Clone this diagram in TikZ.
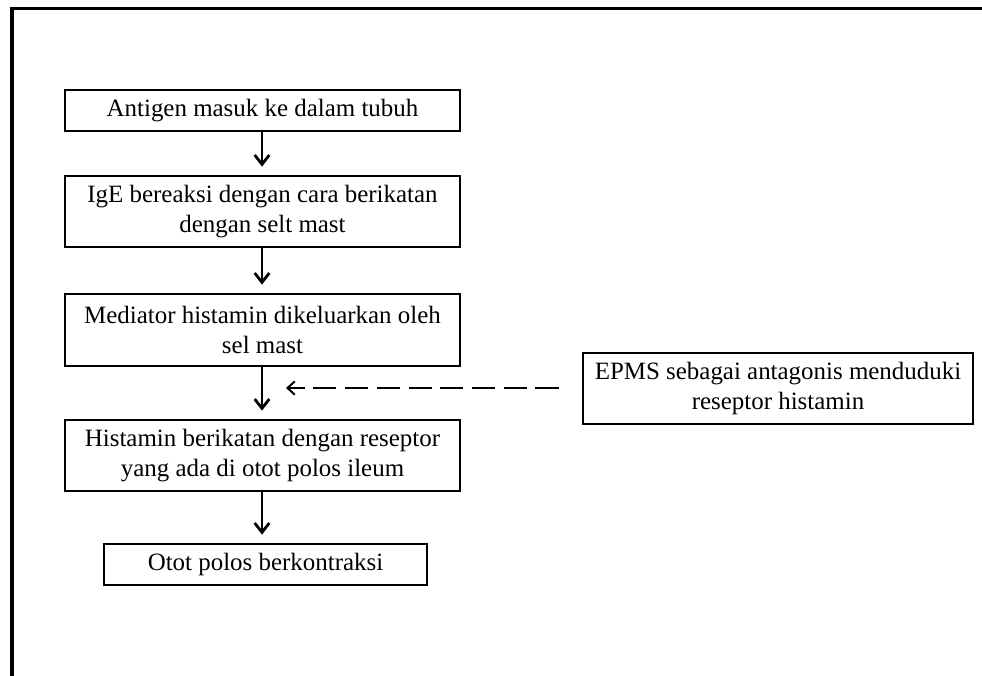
\documentclass[tikz,border=0pt]{standalone}
\usepackage{fontspec}
\setmainfont{Liberation Serif}
\usetikzlibrary{arrows.meta}
\begin{document}
\begin{tikzpicture}[x=0.75pt,y=-0.75pt,
  flowbox/.style={draw=black,line width=2.1pt,rectangle,align=center,inner sep=0pt,
    font=\fontsize{18.7pt}{22.5pt}\selectfont,text=black},
  flowarrow/.style={line width=2.1pt,-{Straight Barb[length=7pt,width=11pt,line width=2.1pt]},shorten >=6pt},
  dasharrow/.style={line width=1.5pt,dash pattern=on 17.3pt off 6.5pt,-{Straight Barb[length=5.5pt,width=10pt,line width=1.5pt]},shorten <=17.3pt}]
\useasboundingbox (0,0) rectangle (982,675);
\fill[white] (0,0) rectangle (982,675);
\draw[line width=2.6pt] (12,680) -- (12,8.5) -- (990,8.5);
\node[flowbox,minimum width=296.25pt,minimum height=30.75pt] (b1) at (262.5,110.5) {Antigen masuk ke dalam tubuh};
\node[flowbox,minimum width=296.25pt,minimum height=53.25pt] (b2) at (262.5,211.5) {IgE bereaksi dengan cara berikatan\\dengan selt mast};
\node[flowbox,minimum width=296.25pt,minimum height=54pt] (b3) at (262.5,330) {Mediator histamin dikeluarkan oleh\\sel mast};
\node[flowbox,minimum width=296.25pt,minimum height=53.25pt] (b4) at (262.5,455.5) {Histamin berikatan dengan reseptor\\yang ada di otot polos ileum};
\node[flowbox,minimum width=242.25pt,minimum height=30.75pt] (b5) at (265.5,564.5) {Otot polos berkontraksi};
\node[flowbox,minimum width=292.5pt,minimum height=53.25pt] (ep) at (778,388.5) {EPMS sebagai antagonis menduduki\\reseptor histamin};
\coordinate (tip) at (286,388);
\draw[flowarrow] (b1.south -| 262,0) -- (b2.north -| 262,0);
\draw[flowarrow] (b2.south -| 262,0) -- (b3.north -| 262,0);
\draw[flowarrow] (b3.south -| 262,0) -- (b4.north -| 262,0);
\draw[flowarrow] (b4.south -| 262,0) -- (b5.north -| 262,0);
\draw[dasharrow] (ep.west |- tip) -- (tip);
\end{tikzpicture}
\end{document}
